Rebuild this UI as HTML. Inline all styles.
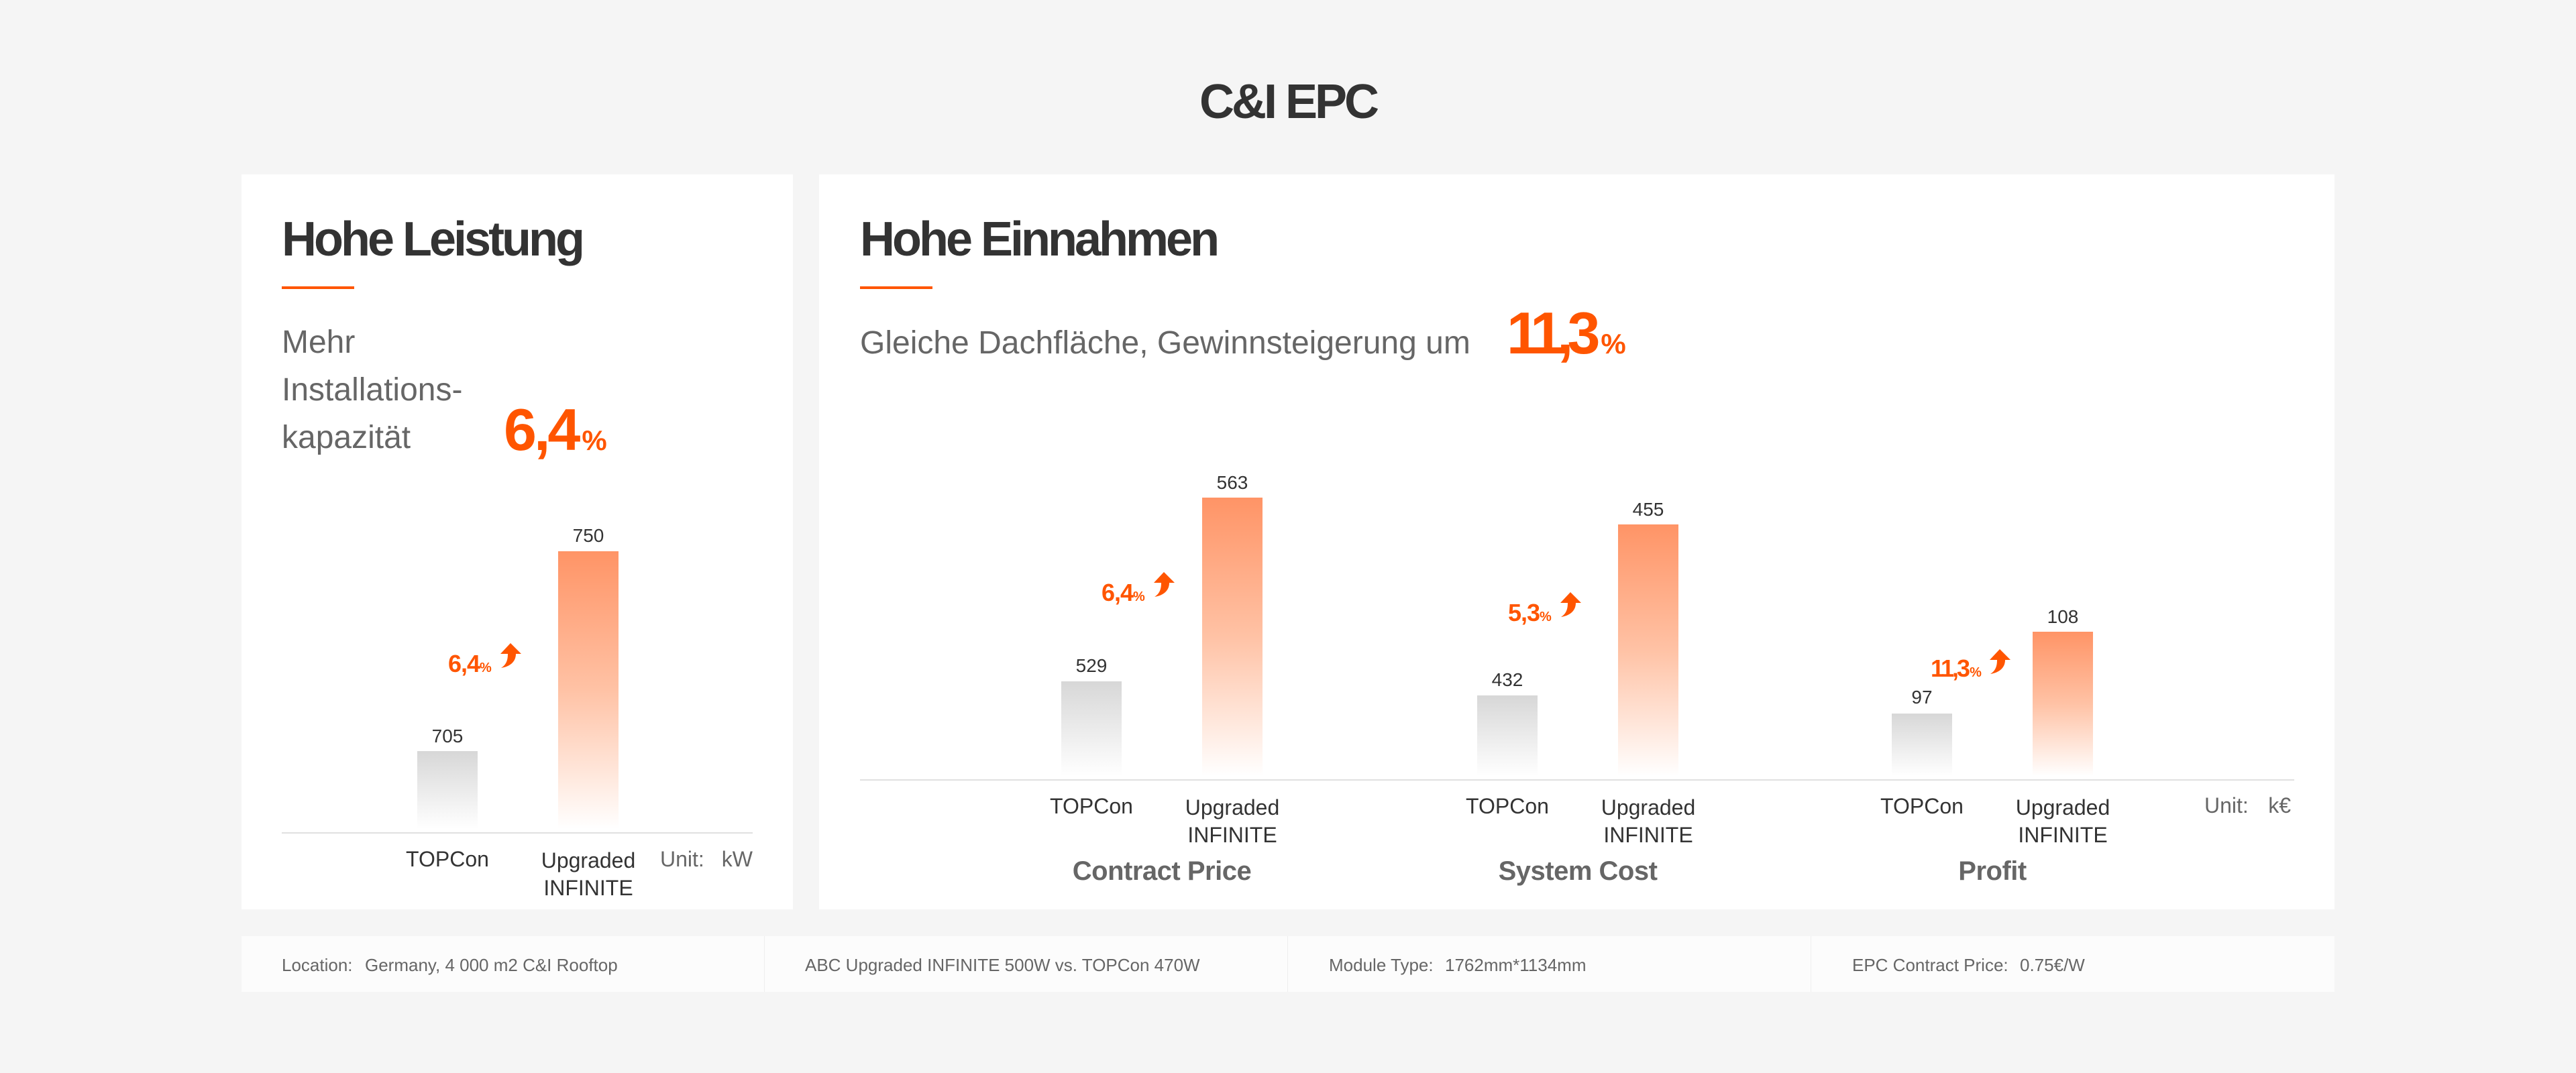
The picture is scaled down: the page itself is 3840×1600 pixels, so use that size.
<!DOCTYPE html>
<html>
<head>
<meta charset="utf-8">
<style>
  html,body{margin:0;padding:0;background:#f5f5f5;}
  body{width:3840px;height:1600px;overflow:hidden;}
  svg{display:block;}
  text{font-family:"Liberation Sans","Noto Sans CJK SC",Arial,sans-serif;}
</style>
</head>
<body>
<svg width="3840" height="1600" viewBox="0 0 3840 1600" xmlns="http://www.w3.org/2000/svg">
  <defs>
    <linearGradient id="gOr" x1="0" y1="0" x2="0" y2="1">
      <stop offset="0" stop-color="#ff9466"/>
      <stop offset="0.5" stop-color="#ffc2a5"/>
      <stop offset="1" stop-color="#ffffff"/>
    </linearGradient>
    <linearGradient id="gGr" x1="0" y1="0" x2="0" y2="1">
      <stop offset="0" stop-color="#d7d7d7"/>
      <stop offset="1" stop-color="#ffffff"/>
    </linearGradient>
    <path id="arr" d="M15 0 L31 16 L23 16 C23 28 14 35 1 37 C9 32 11 25 11 16 L0 16 Z" fill="#ff5500"/>
  </defs>

  <rect x="0" y="0" width="3840" height="1600" fill="#f5f5f5"/>

  <!-- Title -->
  <text x="1920" y="176" text-anchor="middle" font-size="72" font-weight="bold" letter-spacing="-4" fill="#333">C&amp;I EPC</text>

  <!-- Cards -->
  <rect x="360" y="260" width="822" height="1096" fill="#ffffff"/>
  <rect x="1221" y="260" width="2259" height="1096" fill="#ffffff"/>

  <!-- LEFT CARD -->
  <text x="420" y="381" font-size="72" font-weight="bold" letter-spacing="-4" fill="#333">Hohe Leistung</text>
  <rect x="420" y="427" width="108" height="4" fill="#ff5500"/>
  <text x="420" y="526" font-size="48" fill="#666">Mehr</text>
  <text x="420" y="597" font-size="48" fill="#666">Installations-</text>
  <text x="420" y="668" font-size="48" fill="#666">kapazität</text>
  <text x="751" y="671" font-weight="bold" fill="#ff5500"><tspan font-size="88" letter-spacing="-4">6,4</tspan><tspan font-size="42" dx="6">%</tspan></text>

  <line x1="420" y1="1242" x2="1122" y2="1242" stroke="#e0e0e0" stroke-width="2"/>
  <rect x="622" y="1120" width="90" height="116" fill="url(#gGr)"/>
  <rect x="832" y="822" width="90" height="414" fill="url(#gOr)"/>
  <text x="667" y="1107" text-anchor="middle" font-size="28" fill="#333">705</text>
  <text x="877" y="808" text-anchor="middle" font-size="28" fill="#333">750</text>
  <text x="668" y="1002" font-weight="bold" fill="#ff5500"><tspan font-size="36" letter-spacing="-1">6,4</tspan><tspan font-size="20">%</tspan></text>
  <use href="#arr" transform="translate(746,959)"/>
  <text x="667" y="1292" text-anchor="middle" font-size="32" fill="#333">TOPCon</text>
  <text x="877" y="1294" text-anchor="middle" font-size="32" fill="#333">Upgraded</text>
  <text x="877" y="1335" text-anchor="middle" font-size="32" fill="#333">INFINITE</text>
  <text x="984" y="1292" font-size="32" fill="#666">Unit:</text>
  <text x="1122" y="1292" text-anchor="end" font-size="32" fill="#666">kW</text>

  <!-- RIGHT CARD -->
  <text x="1282" y="381" font-size="72" font-weight="bold" letter-spacing="-4" fill="#333">Hohe Einnahmen</text>
  <rect x="1282" y="427" width="108" height="4" fill="#ff5500"/>
  <text x="1282" y="527" font-size="48" fill="#666">Gleiche Dachfläche, Gewinnsteigerung um</text>
  <text x="2246" y="527" font-weight="bold" fill="#ff5500"><tspan font-size="88" letter-spacing="-9">11,3</tspan><tspan font-size="42" dx="10">%</tspan></text>

  <line x1="1282" y1="1163" x2="3420" y2="1163" stroke="#e0e0e0" stroke-width="2"/>

  <!-- Group 1 -->
  <rect x="1582" y="1016" width="90" height="141" fill="url(#gGr)"/>
  <rect x="1792" y="742" width="90" height="415" fill="url(#gOr)"/>
  <text x="1627" y="1002" text-anchor="middle" font-size="28" fill="#333">529</text>
  <text x="1837" y="729" text-anchor="middle" font-size="28" fill="#333">563</text>
  <text x="1642" y="896" font-weight="bold" fill="#ff5500"><tspan font-size="36" letter-spacing="-1">6,4</tspan><tspan font-size="20">%</tspan></text>
  <use href="#arr" transform="translate(1720,853)"/>
  <text x="1627" y="1213" text-anchor="middle" font-size="32" fill="#333">TOPCon</text>
  <text x="1837" y="1215" text-anchor="middle" font-size="32" fill="#333">Upgraded</text>
  <text x="1837" y="1256" text-anchor="middle" font-size="32" fill="#333">INFINITE</text>
  <text x="1732" y="1312" text-anchor="middle" font-size="40" font-weight="bold" letter-spacing="-0.5" fill="#666">Contract Price</text>

  <!-- Group 2 -->
  <rect x="2202" y="1037" width="90" height="120" fill="url(#gGr)"/>
  <rect x="2412" y="782" width="90" height="375" fill="url(#gOr)"/>
  <text x="2247" y="1023" text-anchor="middle" font-size="28" fill="#333">432</text>
  <text x="2457" y="769" text-anchor="middle" font-size="28" fill="#333">455</text>
  <text x="2248" y="926" font-weight="bold" fill="#ff5500"><tspan font-size="36" letter-spacing="-1">5,3</tspan><tspan font-size="20">%</tspan></text>
  <use href="#arr" transform="translate(2326,883)"/>
  <text x="2247" y="1213" text-anchor="middle" font-size="32" fill="#333">TOPCon</text>
  <text x="2457" y="1215" text-anchor="middle" font-size="32" fill="#333">Upgraded</text>
  <text x="2457" y="1256" text-anchor="middle" font-size="32" fill="#333">INFINITE</text>
  <text x="2352" y="1312" text-anchor="middle" font-size="40" font-weight="bold" letter-spacing="-0.5" fill="#666">System Cost</text>

  <!-- Group 3 -->
  <rect x="2820" y="1064" width="90" height="93" fill="url(#gGr)"/>
  <rect x="3030" y="942" width="90" height="215" fill="url(#gOr)"/>
  <text x="2865" y="1049" text-anchor="middle" font-size="28" fill="#333">97</text>
  <text x="3075" y="929" text-anchor="middle" font-size="28" fill="#333">108</text>
  <text x="2878" y="1009" font-weight="bold" fill="#ff5500"><tspan font-size="36" letter-spacing="-3">11,3</tspan><tspan font-size="20" dx="2">%</tspan></text>
  <use href="#arr" transform="translate(2966,968)"/>
  <text x="2865" y="1213" text-anchor="middle" font-size="32" fill="#333">TOPCon</text>
  <text x="3075" y="1215" text-anchor="middle" font-size="32" fill="#333">Upgraded</text>
  <text x="3075" y="1256" text-anchor="middle" font-size="32" fill="#333">INFINITE</text>
  <text x="2970" y="1312" text-anchor="middle" font-size="40" font-weight="bold" letter-spacing="-0.5" fill="#666">Profit</text>
  <text x="3286" y="1212" font-size="32" fill="#666">Unit:</text>
  <text x="3415" y="1212" text-anchor="end" font-size="32" fill="#666">k€</text>

  <!-- FOOTER -->
  <rect x="360" y="1396" width="3120" height="83" fill="#fcfcfc"/>
  <line x1="1139.5" y1="1396" x2="1139.5" y2="1479" stroke="#eeeeee" stroke-width="1"/>
  <line x1="1919.5" y1="1396" x2="1919.5" y2="1479" stroke="#eeeeee" stroke-width="1"/>
  <line x1="2699.5" y1="1396" x2="2699.5" y2="1479" stroke="#eeeeee" stroke-width="1"/>
  <text x="420" y="1448" font-size="26" fill="#666">Location:</text>
  <text x="544" y="1448" font-size="26" fill="#666">Germany, 4 000 m2 C&amp;I Rooftop</text>
  <text x="1200" y="1448" font-size="26" fill="#666">ABC Upgraded INFINITE 500W vs. TOPCon 470W</text>
  <text x="1981" y="1448" font-size="26" fill="#666">Module Type:</text>
  <text x="2154" y="1448" font-size="26" fill="#666">1762mm*1134mm</text>
  <text x="2761" y="1448" font-size="26" fill="#666">EPC Contract Price:</text>
  <text x="3011" y="1448" font-size="26" fill="#666">0.75€/W</text>
</svg>
</body>
</html>
